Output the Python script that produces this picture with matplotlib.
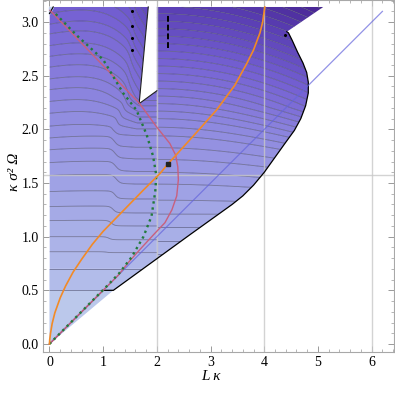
import numpy as np
import matplotlib
matplotlib.use("Agg")
import matplotlib.pyplot as plt
from matplotlib.patches import Polygon
from matplotlib.colors import LinearSegmentedColormap, Normalize

# ---- values ----
# contour heights at the left edge (x = 0), first entry is the bottom of the fill
left_levels_y = [0.0, 0.50, 0.70, 0.86, 1.00, 1.15, 1.28, 1.42, 1.57, 1.69, 1.81, 1.92, 2.03,
                 2.15, 2.26, 2.37, 2.47, 2.58, 2.68, 2.78, 2.89, 2.98, 3.08, 3.18, 3.28,
                 3.38, 3.48, 3.58, 3.68]
# contour heights just right of x = 2
right_levels_y = [0.0, 0.50, 0.69, 0.84, 0.96, 1.09, 1.21, 1.34, 1.49, 1.60, 1.72, 1.83, 1.94,
                  2.02, 2.10, 2.17, 2.24, 2.31, 2.38, 2.45, 2.52, 2.59, 2.66, 2.73, 2.80,
                  2.87, 2.94, 3.01, 3.08, 3.15, 3.22, 3.29, 3.36, 3.43, 3.50, 3.57, 3.64]

# step in the contours of the left part
drop_at_y = [0.8, 1.1, 1.5, 2.0, 2.3, 3.2]
drop_h = [0.0, 0.05, 0.08, 0.09, 0.09, 0.09]
drop_x = [1.05, 1.15, 1.25, 1.2, 1.45, 1.6]
# downward bend of the contours right of x = 2
bend_at_y = [1.2, 1.6, 2.2, 3.2]
bend_c = [0.0, 0.015, 0.04, 0.04]

# outline of the shaded region
edge_x = [1.0, 1.19, 2.62, 3.4, 3.6, 3.8, 4.0, 4.2, 4.4, 4.56, 4.68, 4.77, 4.82, 4.82,
          4.79, 4.72, 4.62, 4.52, 4.45, 4.42]
edge_y = [0.50, 0.50, 1.02, 1.30, 1.38, 1.48, 1.60, 1.74, 1.88, 1.99, 2.10, 2.22, 2.34, 2.44,
          2.53, 2.62, 2.72, 2.83, 2.90, 2.91]
top_x = [5.10, 2.0, 2.0, 1.67, 1.84, 0.07, 0.0]
top_y = [np.pi, np.pi, 2.36, 2.24, np.pi, np.pi, 3.08]
wedge_x = [1.84, 1.67, 2.0]
wedge_y = [np.pi, 2.24, 2.36]

orange_x = [0.0, 0.005, 0.02, 0.05, 0.1, 0.2, 0.3, 0.44, 0.6, 0.8, 1.0, 1.35, 1.75, 2.06,
            2.21, 2.7, 3.11, 3.45, 3.67, 3.8, 3.92, 3.97, 4.01]
orange_y = [0.0, 0.04, 0.10, 0.19, 0.29, 0.43, 0.54, 0.67, 0.79, 0.93, 1.05, 1.23, 1.435, 1.59,
            1.68, 1.95, 2.18, 2.41, 2.61, 2.74, 2.90, 3.0, 3.14]
red_x = [0.0, 1.28, 1.47, 1.72, 1.96, 2.15, 2.28, 2.37, 2.40, 2.39, 2.35, 2.24, 2.0, 1.68, 0.01]
red_y = [0.0, 0.64, 0.76, 0.90, 1.03, 1.13, 1.25, 1.38, 1.53, 1.65, 1.76, 1.87, 2.02, 2.24, 3.11]
green_x = [0.0, 1.09, 1.30, 1.53, 1.75, 1.90, 1.97, 1.99, 1.93, 1.81, 1.62, 1.37, 1.0, 0.5, 0.07]
green_y = [0.0, 0.55, 0.66, 0.81, 1.0, 1.19, 1.42, 1.57, 1.75, 1.95, 2.18, 2.34, 2.65, 2.88, 3.10]
blue_x = [0.0, 6.2]
blue_y = [0.0, 3.1]

dash_x = [2.21, 2.21]
dash_y = [2.76, 3.08]
dots_x = [1.53, 1.53, 1.53, 1.53, 4.39]
dots_y = [3.10, 2.96, 2.85, 2.74, 2.88]
mark_x = [2.21]
mark_y = [1.68]


def main():
    fig = plt.figure(figsize=(3.95, 3.93), dpi=100)
    ax = fig.add_axes([0.1089, 0.1051, 0.8886, 0.8949])
    ax.set_xlim(-0.12, 6.416)
    ax.set_ylim(-0.072, 3.206)

    cmap = LinearSegmentedColormap.from_list("reg", [
        (0.00, "#c0cfec"), (0.03, "#b3bdea"), (0.23, "#9d9fe4"), (0.43, "#8a82dd"),
        (0.63, "#7460d2"), (0.82, "#5a3fb4"), (1.00, "#45208c")])
    norm = Normalize(-1, 34)
    levels = np.arange(-1, 37)
    band_colors = [cmap(norm(v + 0.5)) for v in levels[:-1]]

    region_x = [0.0] + edge_x[1:] + top_x
    region_y = [0.0] + edge_y[1:] + top_y
    region = Polygon(np.column_stack([region_x, region_y]), closed=True,
                     transform=ax.transData, facecolor="none", edgecolor="none")
    ax.add_patch(region)

    # left part
    xl = np.linspace(0, 2.0, 400)
    yy = np.linspace(0, np.pi, 500)
    X, Y = np.meshgrid(xl, yy)
    h = np.interp(Y, drop_at_y, drop_h)
    xd = np.interp(Y, drop_at_y, drop_x)
    d_step = h * 0.5 * (1 + np.tanh((X - xd) / 0.07))
    xw = 1.67 + (Y - 2.24) / (np.pi - 2.24) * 0.17
    g = np.clip((Y - 1.95) / 0.35, 0, 1)
    d_up = 0.35 * g * np.clip(X / np.maximum(xw, 1.6), 0, 1) ** 4
    arch = np.interp(Y, [1.0, 3.1], [0.0, 0.06]) * np.clip(X * (1.6 - X), 0, None)
    idx_l = np.arange(len(left_levels_y)) - 1
    VL = np.interp(Y + d_step + d_up - arch, left_levels_y, idx_l)

    # right part
    xr = np.linspace(2.0, 5.2, 500)
    X2, Y2 = np.meshgrid(xr, yy)
    c = np.interp(Y2, bend_at_y, bend_c)
    idx_r = np.arange(len(right_levels_y)) - 1
    VR = np.interp(Y2 + c * (X2 - 2) ** 2, right_levels_y, idx_r)

    for XX, YY, V in [(X, Y, VL), (X2, Y2, VR)]:
        cf = ax.contourf(XX, YY, V, levels=levels, colors=band_colors, antialiased=True, zorder=1)
        cf.set_clip_path(region)
        cl = ax.contour(XX, YY, V, levels=levels[1:], colors="#4c4c6c", linewidths=0.6,
                        alpha=0.65, zorder=1.5)
        cl.set_clip_path(region)

    ax.fill([0, 0, 0.07], [3.08, np.pi, np.pi], color="#c0cfec", zorder=1)
    ax.plot([0, 0.07], [3.08, np.pi], color="black", lw=0.8, zorder=3)

    # grid lines
    for gx in [2, 4, 6]:
        ax.axvline(gx, color="#c8c8c8", lw=1.0, alpha=0.8, zorder=2)
    ax.axhline(np.pi / 2, color="#c8c8c8", lw=1.0, alpha=0.8, zorder=2)

    # region boundary
    ax.plot(edge_x, edge_y, color="black", lw=0.9, zorder=3)
    ax.plot(wedge_x, wedge_y, color="#222222", lw=0.8, zorder=3)
    ax.plot([0.03, 1.0], [0.015, 0.5], color="black", lw=0.8, zorder=3)

    ax.plot(blue_x, blue_y, color="#6464dc", lw=0.9, alpha=0.7, zorder=4)
    ax.plot(red_x, red_y, color="#c8607e", lw=1.0, zorder=4)
    ax.plot(green_x, green_y, color="#237a3c", lw=1.7, linestyle=(0, (1, 1.6)), zorder=4)
    ax.plot(orange_x, orange_y, color="#f28a26", lw=1.2, zorder=4)

    ax.plot(dash_x, dash_y, color="black", lw=1.4, linestyle=(0, (3, 1.5)), zorder=5)
    ax.plot(dots_x, dots_y, "o", color="black", ms=1.2, zorder=5)
    ax.plot(mark_x, mark_y, "s", color="#222222", ms=2.5, zorder=5)

    # frame and ticks
    for sp in ax.spines.values():
        sp.set_color("#a8a8a8")
        sp.set_linewidth(0.8)
    ax.set_xticks(range(7))
    ax.set_yticks([0, 0.5, 1.0, 1.5, 2.0, 2.5, 3.0])
    ax.set_xticks(np.arange(0, 6.41, 0.2), minor=True)
    ax.set_yticks(np.arange(0, 3.21, 0.1), minor=True)
    ax.set_yticklabels(["%.1f" % v for v in [0, 0.5, 1.0, 1.5, 2.0, 2.5, 3.0]])
    ax.tick_params(which="both", direction="in", color="#999999", top=True, right=True,
                   labelsize=10, pad=3)
    ax.tick_params(which="major", length=4, width=0.7)
    ax.tick_params(which="minor", length=2, width=0.5)
    for lab in ax.get_xticklabels() + ax.get_yticklabels():
        lab.set_fontfamily("Liberation Serif")

    fig.text(211 / 395, 1 - 377 / 393, "L κ", ha="center", va="center",
             fontfamily="Liberation Serif", fontstyle="italic", fontsize=11)
    fig.text(14 / 395, 1 - 172 / 393, "κ σ² Ω", ha="center", va="center", rotation=90,
             fontfamily="Liberation Serif", fontstyle="italic", fontsize=11)

    fig.savefig("out.png", dpi=100)


if __name__ == '__main__':
    main()
